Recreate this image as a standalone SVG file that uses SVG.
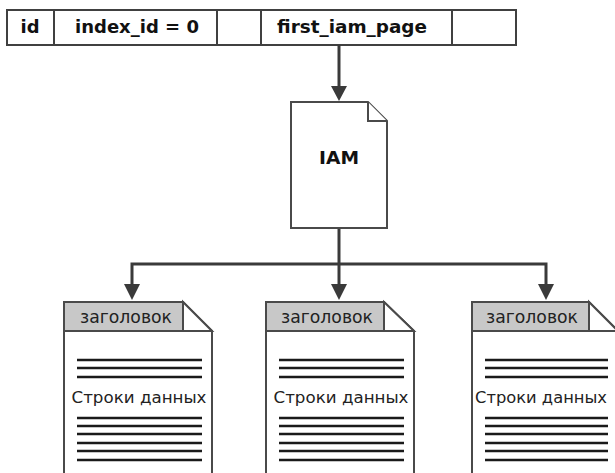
<svg xmlns="http://www.w3.org/2000/svg" width="615" height="473" viewBox="0 0 615 473">
<defs>
<style>
.cell{fill:#fff;stroke:#404040;stroke-width:2}
.tt{font-family:"DejaVu Sans",Verdana,sans-serif;font-weight:bold;font-size:17px;fill:#111;text-anchor:middle}
.doc{fill:#fff;stroke:#4a4a4a;stroke-width:2}
.hdr{fill:#c8c8c8;stroke:#4a4a4a;stroke-width:2}
.fold{fill:#fff;stroke:#4a4a4a;stroke-width:2;stroke-linejoin:miter}
.ht{font-family:"DejaVu Sans",Verdana,sans-serif;font-size:17.5px;fill:#222;text-anchor:middle}
.bt{font-family:"DejaVu Sans",Verdana,sans-serif;font-size:16.5px;fill:#222;text-anchor:middle}
.dl{stroke:#1a1a1a;stroke-width:2.6}
.con{fill:none;stroke:#3a3a3a;stroke-width:3}
.ah{fill:#3a3a3a}
</style>
</defs>
<g id="table">
<rect class="cell" x="7" y="10" width="509" height="35"/>
<line class="cell" x1="54" y1="10" x2="54" y2="45"/>
<line class="cell" x1="217" y1="10" x2="217" y2="45"/>
<line class="cell" x1="261" y1="10" x2="261" y2="45"/>
<line class="cell" x1="452" y1="10" x2="452" y2="45"/>
<text class="tt" x="30" y="33" textLength="19" lengthAdjust="spacingAndGlyphs">id</text>
<text class="tt" x="137" y="33" textLength="124" lengthAdjust="spacingAndGlyphs">index_id = 0</text>
<text class="tt" x="352" y="33" textLength="150" lengthAdjust="spacingAndGlyphs">first_iam_page</text>
</g>
<g id="connectors">
<line class="con" x1="339" y1="45" x2="339" y2="88"/>
<polygon class="ah" points="331,86 347,86 339,101"/>
<polyline class="con" points="339,228 339,264"/>
<polyline class="con" points="132,285 132,264 546,264 546,285"/>
<line class="con" x1="339" y1="264" x2="339" y2="285"/>
<polygon class="ah" points="124,284 140,284 132,300"/>
<polygon class="ah" points="331,284 347,284 339,300"/>
<polygon class="ah" points="538,284 554,284 546,300"/>
</g>
<g id="iam">
<path class="doc" d="M291,102 H368 L387,121 V228 H291 Z"/>
<path class="fold" d="M368,102 V121 H387"/>
<text class="tt" x="339" y="164" textLength="40" lengthAdjust="spacingAndGlyphs">IAM</text>
</g>
<g id="page1">
<path class="doc" d="M64,302 H183 L212,331 V480 H64 Z"/>
<rect class="hdr" x="64" y="302" width="119" height="29"/>
<path class="fold" d="M183,302 L212,331 H183 Z"/>
<text class="ht" x="126" y="323" textLength="92" lengthAdjust="spacingAndGlyphs">заголовок</text>
<g class="dl">
<line x1="77" y1="360" x2="202" y2="360"/><line x1="77" y1="368" x2="202" y2="368"/><line x1="77" y1="377" x2="202" y2="377"/>
<line x1="77" y1="418" x2="202" y2="418"/><line x1="77" y1="426" x2="202" y2="426"/><line x1="77" y1="434" x2="202" y2="434"/><line x1="77" y1="443" x2="202" y2="443"/><line x1="77" y1="451" x2="202" y2="451"/><line x1="77" y1="460" x2="202" y2="460"/>
</g>
<text class="bt" x="139" y="403" textLength="135" lengthAdjust="spacingAndGlyphs">Строки данных</text>
</g>
<g id="page2">
<path class="doc" d="M266,302 H384 L414,331 V480 H266 Z"/>
<rect class="hdr" x="266" y="302" width="118" height="29"/>
<path class="fold" d="M384,302 L414,331 H384 Z"/>
<text class="ht" x="327" y="323" textLength="92" lengthAdjust="spacingAndGlyphs">заголовок</text>
<g class="dl">
<line x1="279" y1="360" x2="404" y2="360"/><line x1="279" y1="368" x2="404" y2="368"/><line x1="279" y1="377" x2="404" y2="377"/>
<line x1="279" y1="418" x2="404" y2="418"/><line x1="279" y1="426" x2="404" y2="426"/><line x1="279" y1="434" x2="404" y2="434"/><line x1="279" y1="443" x2="404" y2="443"/><line x1="279" y1="451" x2="404" y2="451"/><line x1="279" y1="460" x2="404" y2="460"/>
</g>
<text class="bt" x="341" y="403" textLength="135" lengthAdjust="spacingAndGlyphs">Строки данных</text>
</g>
<g id="page3">
<path class="doc" d="M472,302 H589 L618,331 V480 H472 Z"/>
<rect class="hdr" x="472" y="302" width="117" height="29"/>
<path class="fold" d="M589,302 L618,331 H589 Z"/>
<text class="ht" x="532" y="323" textLength="92" lengthAdjust="spacingAndGlyphs">заголовок</text>
<g class="dl">
<line x1="485" y1="360" x2="608" y2="360"/><line x1="485" y1="368" x2="608" y2="368"/><line x1="485" y1="377" x2="608" y2="377"/>
<line x1="485" y1="418" x2="608" y2="418"/><line x1="485" y1="426" x2="608" y2="426"/><line x1="485" y1="434" x2="608" y2="434"/><line x1="485" y1="443" x2="608" y2="443"/><line x1="485" y1="451" x2="608" y2="451"/><line x1="485" y1="460" x2="608" y2="460"/>
</g>
<text class="bt" x="541" y="403" textLength="132" lengthAdjust="spacingAndGlyphs">Строки данных</text>
</g>
</svg>
